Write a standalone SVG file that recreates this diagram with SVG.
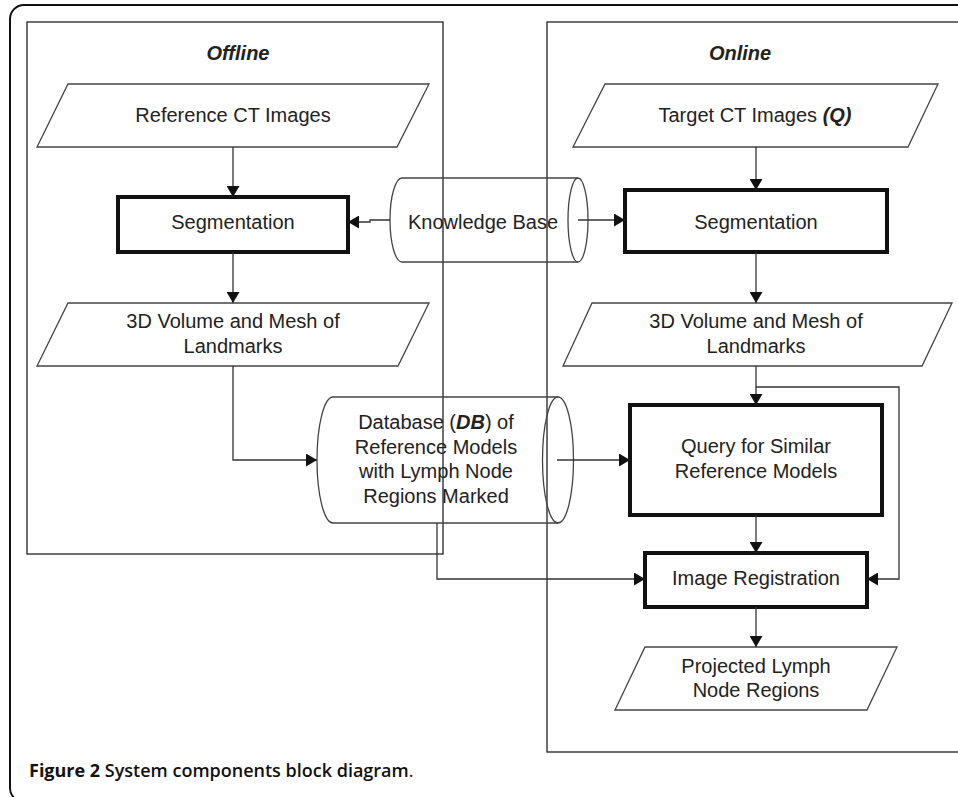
<svg xmlns="http://www.w3.org/2000/svg" width="958" height="797" viewBox="0 0 958 797">
<style>
text{font-family:"Liberation Sans",Arimo,Arial,sans-serif;font-size:20px;fill:#222;text-anchor:middle}
.bi{font-weight:bold;font-style:italic}
.frame{fill:none;stroke:#222;stroke-width:1.3}
.shape{fill:none;stroke:#444;stroke-width:1.3}
.thick{fill:#fff;stroke:#111;stroke-width:4}
.para{fill:#fff;stroke:#444;stroke-width:1.3}
.conn path{fill:none;stroke:#333;stroke-width:1.3}
.cap{font-family:"Open Sans","Noto Sans",sans-serif;font-size:18px;text-anchor:start;fill:#111}
</style>
<defs>
<marker id="ah" viewBox="0 0 11 13" refX="11" refY="6.5" markerWidth="11" markerHeight="13" markerUnits="userSpaceOnUse" orient="auto">
<path d="M0,0 L11,6.5 L0,13 Z" fill="#111"/>
</marker>
</defs>
<rect width="958" height="797" fill="#fff"/>
<rect x="10" y="5" width="970" height="797" rx="14" fill="none" stroke="#111" stroke-width="2"/>

<g id="offline">
<rect class="frame" x="27" y="22" width="416" height="532"/>
<text class="bi" x="238" y="60">Offline</text>
</g>
<g id="online">
<rect class="frame" x="547" y="22" width="430" height="730"/>
<text class="bi" x="740" y="60">Online</text>
</g>

<g id="ref-ct">
<polygon class="para" points="68,84 429,84 397,147 37,147"/>
<text x="233" y="122">Reference CT Images</text>
</g>
<g id="seg-left">
<rect class="thick" x="118" y="197" width="230" height="55"/>
<text x="233" y="229">Segmentation</text>
</g>
<g id="vol-left">
<polygon class="para" points="68,303 429,303 398,366 37,366"/>
<text x="233" y="328">3D Volume and Mesh of</text>
<text x="233" y="353">Landmarks</text>
</g>

<g id="target-ct">
<polygon class="para" points="605,84 938,84 908,147 573,147"/>
<text x="755" y="122">Target CT Images <tspan class="bi">(Q)</tspan></text>
</g>
<g id="seg-right">
<rect class="thick" x="625" y="190" width="262" height="62"/>
<text x="756" y="229">Segmentation</text>
</g>
<g id="vol-right">
<polygon class="para" points="592,303 952,303 922,366 563,366"/>
<text x="756" y="328">3D Volume and Mesh of</text>
<text x="756" y="353">Landmarks</text>
</g>
<g id="query">
<rect class="thick" x="630" y="405" width="252" height="110"/>
<text x="756" y="453">Query for Similar</text>
<text x="756" y="478">Reference Models</text>
</g>
<g id="registration">
<rect class="thick" x="645" y="553" width="222" height="54"/>
<text x="756" y="585">Image Registration</text>
</g>
<g id="projected">
<polygon class="para" points="645,647 897,647 867,710 615,710"/>
<text x="756" y="673">Projected Lymph</text>
<text x="756" y="697">Node Regions</text>
</g>

<g id="knowledge-base">
<path class="shape" d="M402,178 H578 M402,262 H578 M402,178 A12,42 0 0 0 402,262"/>
<ellipse class="shape" cx="578" cy="220" rx="10" ry="42"/>
<text x="483" y="229">Knowledge Base</text>
</g>
<g id="database">
<path class="shape" d="M333,397 H558 M333,523 H558 M333,397 A16,63 0 0 0 333,523"/>
<ellipse class="shape" cx="558" cy="460" rx="15.5" ry="63"/>
<text x="436" y="429">Database (<tspan class="bi">DB</tspan>) of</text>
<text x="436" y="454">Reference Models</text>
<text x="436" y="478">with Lymph Node</text>
<text x="436" y="503">Regions Marked</text>
</g>

<g class="conn" id="connectors">
<path d="M233,147 V197" marker-end="url(#ah)"/>
<path d="M233,252 V303" marker-end="url(#ah)"/>
<path d="M390,220 H370 V222 H348" marker-end="url(#ah)"/>
<path d="M578,220 H625" marker-end="url(#ah)"/>
<path d="M756,147 V190" marker-end="url(#ah)"/>
<path d="M756,252 V303" marker-end="url(#ah)"/>
<path d="M233,366 V460 H317" marker-end="url(#ah)"/>
<path d="M557,460 H630" marker-end="url(#ah)"/>
<path d="M756,366 V405" marker-end="url(#ah)"/>
<path d="M756,387 H899 V579 H867" marker-end="url(#ah)"/>
<path d="M756,515 V553" marker-end="url(#ah)"/>
<path d="M437,523 V579 H645" marker-end="url(#ah)"/>
<path d="M756,607 V647" marker-end="url(#ah)"/>
</g>

<text class="cap" x="29" y="777"><tspan font-weight="700">Figure 2</tspan><tspan font-weight="600"> System components block diagram</tspan><tspan font-weight="400">.</tspan></text>
</svg>
